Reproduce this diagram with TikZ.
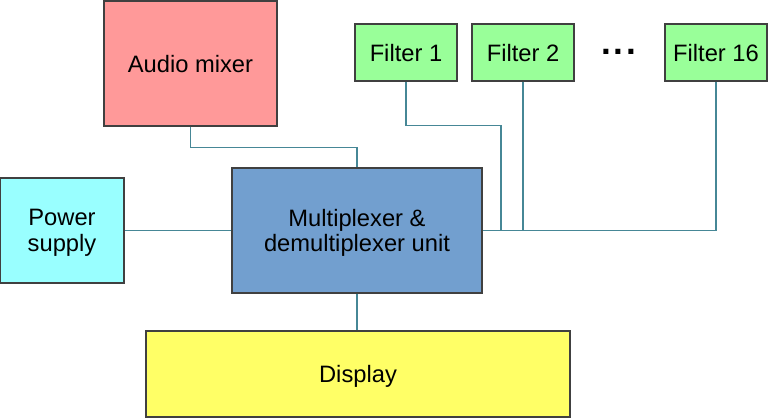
\documentclass[tikz,border=0pt]{standalone}
\usepackage{fontspec}
\setmainfont{Liberation Sans}
\usetikzlibrary{positioning, calc}
\definecolor{mixred}{RGB}{255,153,153}
\definecolor{filtgreen}{RGB}{153,255,153}
\definecolor{pwrcyan}{RGB}{153,255,255}
\definecolor{muxblue}{RGB}{114,159,207}
\definecolor{dispyellow}{RGB}{255,255,102}
\definecolor{wirecol}{RGB}{70,135,150}
\tikzset{
  blk/.style={draw=black!75, line width=0.6pt, rectangle, align=center, inner sep=0pt, text depth=0pt},
  wire/.style={draw=wirecol, line width=0.6pt},
}

\begin{document}
\begin{tikzpicture}[font=\fontsize{13.5}{14.6}\selectfont]
    \useasboundingbox (0,0) rectangle (15.36,8.38);
    % blocks
    \node[blk, fill=mixred, minimum width=3.46cm, minimum height=2.5cm] (mix) at (3.81,7.11) {Audio mixer};
    \node[blk, fill=filtgreen, minimum width=2.04cm, minimum height=1.14cm] (f1) at (8.12,7.33) {Filter 1};
    \node[blk, fill=filtgreen, minimum width=2.04cm, minimum height=1.14cm] (f2) at (10.46,7.33) {Filter 2};
    \node[blk, fill=filtgreen, minimum width=2.04cm, minimum height=1.14cm] (f16) at (14.32,7.33) {Filter 16};
    \node[anchor=base, inner sep=0pt, font=\fontsize{20}{20}\selectfont\bfseries] (dots) at (12.37,7.28) {.\kern0.08em.\kern0.08em.};
    \node[blk, fill=pwrcyan, minimum width=2.48cm, minimum height=2.1cm] (pwr) at (1.24,3.77) {Power\\supply};
    \node[blk, fill=muxblue, minimum width=5.0cm, minimum height=2.5cm] (mux) at (7.14,3.77) {Multiplexer \&\\demultiplexer unit};
    \node[blk, fill=dispyellow, minimum width=8.48cm, minimum height=1.72cm] (disp) at (7.16,0.90) {Display};
    % junction for filter 1
    \coordinate (j1) at (10.02,3.77);
    % wires
    \draw[wire] (mix.south) -- ++(0,-0.42) -| (mux.north);
    \draw[wire] (f1.south) -- ++(0,-0.88) -| (j1) -- (mux.east);
    \draw[wire] (f2.south) |- (mux.east);
    \draw[wire] (f16.south) |- (mux.east);
    \draw[wire] (pwr) -- (mux);
    \draw[wire] (mux.south) -- (mux.south |- disp.north);
  \end{tikzpicture}
\end{document}
